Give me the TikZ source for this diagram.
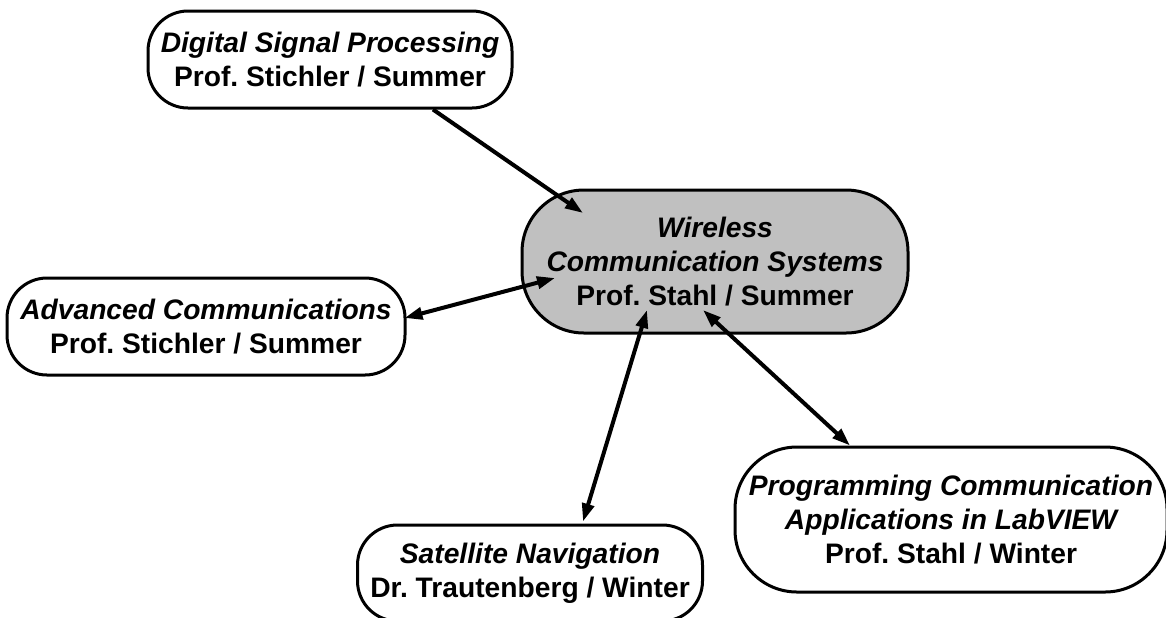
\documentclass[tikz,border=0pt]{standalone}
\usepackage{fontspec}
\setmainfont{Liberation Sans}
\usetikzlibrary{calc,arrows.meta}
\definecolor{boxgray}{RGB}{192,192,192}
\frenchspacing
\begin{document}
\begin{tikzpicture}[x=0.5pt,y=-0.5pt,
  course/.style={draw=black, line width=1.5pt, fill=white, align=center,
    inner sep=0pt, font=\fontsize{14.1}{17}\selectfont\bfseries},
  small/.style={course, rounded corners=20pt},
  big/.style={course, rounded corners=31pt},
  link/.style={line width=2pt, -{Triangle[length=9pt,width=6pt]}},
  dlink/.style={line width=2pt, {Triangle[length=9pt,width=6pt]}-{Triangle[length=9pt,width=6pt]}}]
\useasboundingbox (0,0) rectangle (1166,617);
\node[small, minimum width=182pt, minimum height=48.5pt] (dsp) at (330,59.5)
  {\itshape Digital Signal Processing\\Prof. Stichler / Summer};
\node[big, fill=boxgray, minimum width=193pt, minimum height=71.5pt] (wcs) at (715,261.5)
  {\itshape Wireless\\\itshape Communication Systems\\Prof. Stahl / Summer};
\node[small, minimum width=199pt, minimum height=48.5pt] (adv) at (206,326.5)
  {\itshape Advanced Communications\\Prof. Stichler / Summer};
\node[small, minimum width=172.5pt, minimum height=48pt] (sat) at (530,573)
  {\itshape Satellite Navigation\\Dr. Trautenberg / Winter};
\node[big, minimum width=216pt, minimum height=72.5pt] (prog) at (951,519.5)
  {\itshape Programming Communication\\\itshape Applications in LabVIEW\\Prof. Stahl / Winter};
\draw[link] ($(dsp.south)+(103,0)$) -- ($(wcs.center)+(-132,-48.5)$);
\draw[dlink] ($(adv.east)+(-2,-8.5)$) -- ($(wcs.center)+(-160,16.5)$);
\draw[dlink] ($(sat.north)+(53,-2)$) -- ($(wcs.center)+(-68,48.5)$);
\draw[dlink] ($(prog.north)+(-101,0)$) -- ($(wcs.center)+(-12,48.5)$);
\end{tikzpicture}
\end{document}
